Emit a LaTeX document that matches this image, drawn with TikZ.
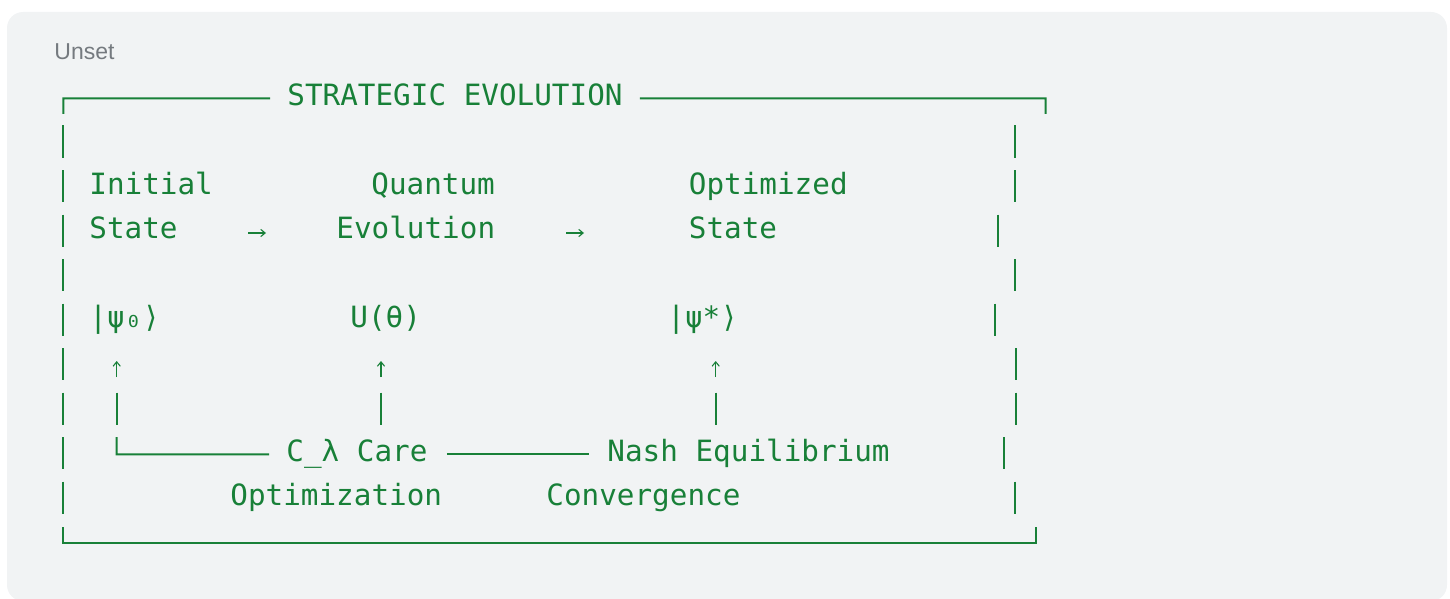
\documentclass[tikz,border=0pt]{standalone}
\usepackage{fontspec}
\newfontfamily\codefont{DejaVu Sans Mono}
\newfontfamily\labelfont{Liberation Sans}
\usetikzlibrary{calc,arrows.meta}

\definecolor{codegreen}{HTML}{188038}
\definecolor{codebg}{HTML}{F1F3F4}
\definecolor{labelgrey}{HTML}{757A7F}

\begin{document}
\begin{tikzpicture}[x=0.5pt,y=-0.5pt,
  txt/.style={anchor=base west,inner sep=0pt,text=codegreen,font=\codefont\fontsize{14.65}{17}\selectfont},
  bar/.style={codegreen,line width=1pt},
  glyph/.style={codegreen,line width=0.55pt,-{Straight Barb[length=2.2pt,width=3.6pt]}}]


% Page size in px
\useasboundingbox (0,0) rectangle (1450,599);

% First baseline and line pitch
\def\yo{105}
\def\dy{44.5}
% Box rules sit this far above the baseline
\def\rl{6.7}
% Left frame column
\def\xl{63.3}

% Grey code panel (draw first so on bottom layer)
\fill[codebg,rounded corners=8pt] (7,12) rectangle (1447,601);

\node[anchor=base west,inner sep=0pt,text=labelgrey,font=\labelfont\fontsize{11.5}{14}\selectfont] (unset) at (54,59.3) {Unset};

% Text rows
\node[txt] (title) at (287,{\yo}) {STRATEGIC EVOLUTION};

\node[txt] (initial) at (89,{\yo+2*\dy}) {Initial};
\node[txt] (quantum) at (371,{\yo+2*\dy}) {Quantum};
\node[txt] (optimized) at (688.5,{\yo+2*\dy}) {Optimized};

\node[txt] (state) at (89,{\yo+3*\dy}) {State};
\node[txt] (evolution) at (336,{\yo+3*\dy}) {Evolution};
\node[txt] (ostate) at (688.5,{\yo+3*\dy}) {State};

\node[txt] (psi0) at (89,{\yo+5*\dy}) {|ψ₀⟩};
\node[txt] (utheta) at (350,{\yo+5*\dy}) {U(θ)};
\node[txt] (psistar) at (667,{\yo+5*\dy}) {|ψ*⟩};

\node[txt] (care) at (286,{\yo+8*\dy}) {C\_λ Care};
\node[txt] (nash) at (607,{\yo+8*\dy}) {Nash Equilibrium};

\node[txt] (optim) at (230,{\yo+9*\dy}) {Optimization};
\node[txt] (conv) at (546,{\yo+9*\dy}) {Convergence};

% Frame corners
\coordinate (tl) at (\xl,{\yo-\rl});
\coordinate (tr) at (1045.6,{\yo-\rl});
\coordinate (bl) at (\xl,{\yo+10*\dy-\rl});
\coordinate (br) at (1035.7,{\yo+10*\dy-\rl});

% Top rule, broken by the title
\draw[bar] ($(tl)+(0,15.7)$) -- (tl) -- ($(title.base west)+(-17,-\rl)$);
\draw[bar] ($(title.base east)+(17,-\rl)$) -- (tr) -- ($(tr)+(0,15.7)$);

% Bottom rule
\draw[bar] ($(bl)+(0,-16)$) -- (bl) -- (br) -- ($(br)+(0,-16)$);

% Side bars, one per row (right side wanders with the wide glyphs)
\foreach \k in {1,...,9}{
   \draw[bar] (\xl,{\yo+\k*\dy-24}) -- +(0,32);
}
\foreach \k/\xr in {1/1014.7,2/1014.7,3/998.4,4/1014.7,5/995,6/1015.8,7/1015.8,8/1003.5,9/1014.5}{
   \draw[bar] (\xr,{\yo+\k*\dy-24}) -- +(0,32);
}

% Flow arrows between the states
\foreach \xa in {248,566}{
   \draw[glyph] (\xa,{\yo+3*\dy-5.5}) -- +(18,0);
}

% Feedback legs up to the states
\foreach \xc in {116.7,381,715.7}{
   \draw[bar] (\xc,{\yo+7*\dy-24}) -- +(0,32);
   \draw[glyph] (\xc,{\yo+6*\dy+5}) -- +(0,-16);
}

% Bottom feedback rule through the care and Nash labels
\draw[bar] (116.7,{\yo+8*\dy-24}) -- (116.7,{\yo+8*\dy-\rl}) -- ($(care.base west)+(-17,-\rl)$);
\draw[bar] ($(care.base east)+(19,-\rl)$) -- ($(nash.base west)+(-18,-\rl)$);

\end{tikzpicture}
\end{document}
